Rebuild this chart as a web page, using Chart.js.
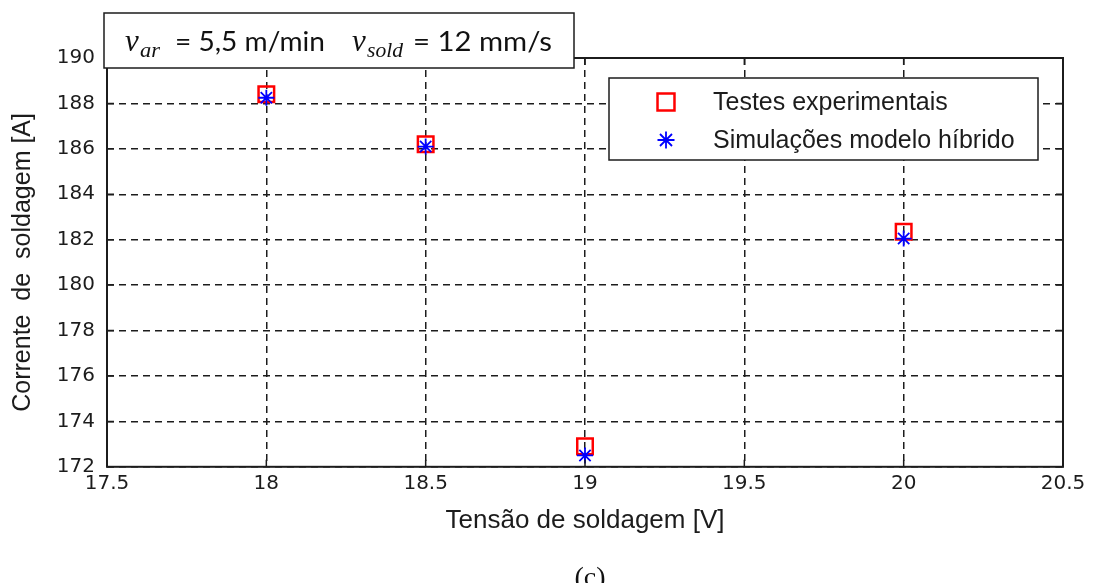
<!DOCTYPE html>
<html lang="pt">
<head>
    <meta charset="UTF-8">
    <script src="https://cdn.jsdelivr.net/npm/chart.js@4.4.0/dist/chart.umd.min.js"></script>
    <title>Corrente x Tensão de soldagem</title>
    <style>
        html, body { margin: 0; padding: 0; background: #fff; }
    </style>
</head>
<body>
    <canvas id="chart" width="1098" height="583"></canvas>

    <script>
        // values
        const tensao = [18, 18.5, 19, 20];
        const testes = [188.4, 186.2, 172.9, 182.35];
        const simulacoes = [188.25, 186.1, 172.5, 182.05];
        const xTicks = [17.5, 18, 18.5, 19, 19.5, 20, 20.5];
        const yTicks = [172, 174, 176, 178, 180, 182, 184, 186, 188, 190];

        const ink = '#1c1c1c';
        const tickFont = { family: '"DejaVu Sans"', size: 20 };

        // draw text squeezed/stretched to a target width (the figure is a bit stretched)
        function fitText(ctx, text, x, y, width) {
            const w = ctx.measureText(text).width;
            ctx.save();
            ctx.translate(x, y);
            ctx.scale(width ? width / w : 1, 1);
            ctx.fillText(text, 0, 0);
            ctx.restore();
        }

        // box, inner ticks, legend, annotation and caption, like the matlab figure
        const framePlugin = {
            id: 'frame',
            afterDraw(chart) {
                const { ctx, chartArea: a, scales } = chart;
                ctx.save();
                ctx.strokeStyle = ink;
                ctx.lineWidth = 1.5;
                ctx.setLineDash([]);
                ctx.beginPath();
                yTicks.forEach(v => {
                    const py = scales.y.getPixelForValue(v);
                    ctx.moveTo(a.left, py); ctx.lineTo(a.left + 7, py);
                    ctx.moveTo(a.right - 7, py); ctx.lineTo(a.right, py);
                });
                xTicks.forEach(v => {
                    const px = scales.x.getPixelForValue(v);
                    ctx.moveTo(px, a.bottom); ctx.lineTo(px, a.bottom - 7);
                    ctx.moveTo(px, a.top); ctx.lineTo(px, a.top + 7);
                });
                ctx.stroke();
                ctx.lineWidth = 2;
                ctx.strokeRect(a.left, a.top, a.right - a.left, a.bottom - a.top);

                // legend
                ctx.fillStyle = '#fff';
                ctx.fillRect(609, 78, 429, 82);
                ctx.lineWidth = 1.5;
                ctx.strokeStyle = ink;
                ctx.strokeRect(609, 78, 429, 82);
                const rows = [102, 140];
                const legendSize = { rect: 12, star: 8.5 };
                chart.data.datasets.slice().sort((p, q) => q.order - p.order).forEach((ds, i) => {
                    const y = rows[i];
                    ctx.strokeStyle = ds.borderColor;
                    ctx.lineWidth = ds.pointBorderWidth;
                    Chart.helpers.drawPoint(ctx, {
                        pointStyle: ds.pointStyle,
                        radius: legendSize[ds.pointStyle],
                        borderWidth: ds.pointBorderWidth,
                        rotation: 0
                    }, 666, y);
                    ctx.fillStyle = ink;
                    ctx.font = '25px "Liberation Sans"';
                    ctx.textBaseline = 'middle';
                    ctx.textAlign = 'left';
                    ctx.fillText(ds.label, 713, y + 1);
                });

                // annotation box
                ctx.fillStyle = '#fff';
                ctx.fillRect(104, 13, 470, 55);
                ctx.strokeStyle = ink;
                ctx.lineWidth = 1.5;
                ctx.strokeRect(104, 13, 470, 55);
                ctx.fillStyle = '#111';
                ctx.textBaseline = 'alphabetic';
                const parts = [
                    { t: 'v', f: 'italic 31px "Liberation Serif"', x: 125, y: 51 },
                    { t: 'ar', f: 'italic 21px "Liberation Serif"', x: 140, y: 57, w: 20 },
                    { t: '= 5,5 m/min', f: '27px "Lato"', x: 175, y: 51, w: 150 },
                    { t: 'v', f: 'italic 31px "Liberation Serif"', x: 352, y: 51 },
                    { t: 'sold', f: 'italic 21px "Liberation Serif"', x: 367, y: 57, w: 36 },
                    { t: '= 12 mm/s', f: '27px "Lato"', x: 413, y: 51, w: 139 }
                ];
                parts.forEach(p => {
                    ctx.font = p.f;
                    fitText(ctx, p.t, p.x, p.y, p.w);
                });

                // caption
                ctx.font = '28px "Liberation Serif"';
                ctx.textAlign = 'center';
                ctx.fillText('(c)', 590, 586);
                ctx.restore();
            }
        };

        new Chart(document.getElementById('chart'), {
            type: 'scatter',
            data: {
                datasets: [
                    {
                        label: 'Simulações modelo híbrido',
                        data: tensao.map((x, i) => ({ x, y: simulacoes[i] })),
                        pointStyle: 'star',
                        pointRadius: 8,
                        pointBorderWidth: 1.8,
                        borderColor: '#0000ff',
                        backgroundColor: '#0000ff',
                        order: 0
                    },
                    {
                        label: 'Testes experimentais',
                        data: tensao.map((x, i) => ({ x, y: testes[i] })),
                        pointStyle: 'rect',
                        pointRadius: 11,
                        pointBorderWidth: 2.5,
                        borderColor: '#ff0000',
                        backgroundColor: 'rgba(0,0,0,0)',
                        order: 1
                    }
                ]
            },
            options: {
                responsive: false,
                animation: false,
                layout: { padding: { top: 58, right: 35, left: 0, bottom: 47 } },
                plugins: {
                    legend: { display: false },
                    tooltip: { enabled: false }
                },
                scales: {
                    x: {
                        type: 'linear',
                        min: 17.5,
                        max: 20.5,
                        afterBuildTicks: scale => { scale.ticks = xTicks.map(value => ({ value })); },
                        ticks: {
                            color: ink, font: tickFont, padding: 5, maxRotation: 0,
                            callback: v => String(v)
                        },
                        grid: { color: ink, lineWidth: 1.5, drawTicks: false },
                        border: { display: false, dash: [7, 5] },
                        title: {
                            display: true,
                            text: 'Tensão de soldagem [V]',
                            color: ink,
                            font: { family: '"Liberation Sans"', size: 26 },
                            padding: { top: 4, bottom: 0 }
                        }
                    },
                    y: {
                        min: 172,
                        max: 190,
                        afterBuildTicks: scale => { scale.ticks = yTicks.map(value => ({ value })); },
                        afterFit: scale => { scale.width = 107; },
                        ticks: { color: ink, font: tickFont, padding: 12 },
                        grid: { color: ink, lineWidth: 1.5, drawTicks: false },
                        border: { display: false, dash: [7, 5] },
                        title: {
                            display: true,
                            text: 'Corrente  de  soldagem [A]',
                            color: ink,
                            font: { family: '"Liberation Sans"', size: 25 },
                            padding: { top: 8, bottom: 0 }
                        }
                    }
                }
            },
            plugins: [framePlugin]
        });
    </script>
</body>
</html>
